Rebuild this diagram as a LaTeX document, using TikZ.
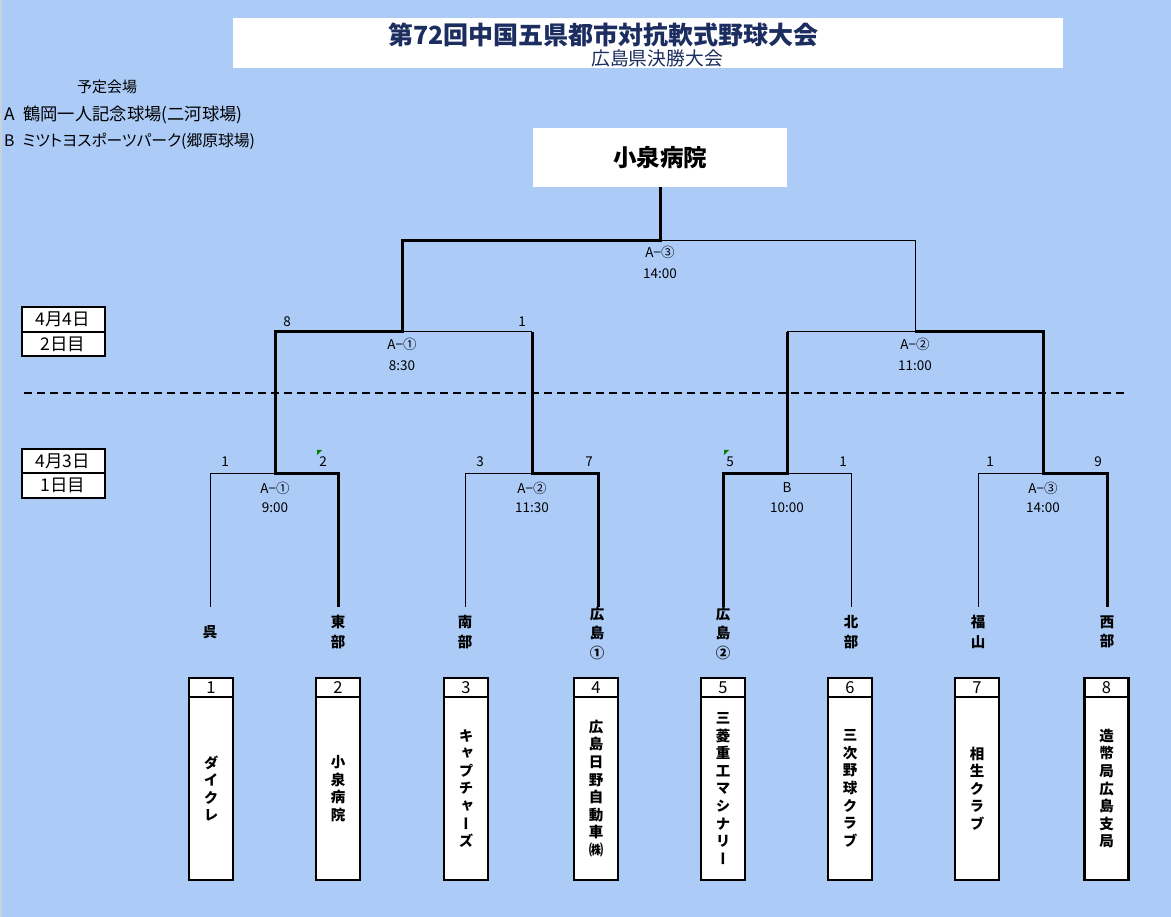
\documentclass[tikz,border=0pt]{standalone}
\usepackage{fontspec}
\setmainfont{Noto Sans CJK JP}
\newfontfamily\vjp[RawFeature=+vert]{Noto Sans CJK JP}
\newfontfamily\pjp[RawFeature=+palt]{Noto Sans CJK JP}
\definecolor{bg}{RGB}{172,203,247}
\definecolor{navy}{RGB}{28,45,95}
\definecolor{xlgreen}{RGB}{0,128,0}
\definecolor{edge}{RGB}{200,208,222}
\begin{document}
\begin{tikzpicture}[x=1pt,y=-1pt,
  win/.style={line width=3pt,line join=miter},
  lose/.style={line width=1pt},
  lbl/.style={font=\fontsize{13.5}{15}\selectfont,inner sep=0pt},
  score/.style={font=\fontsize{13.5}{15}\selectfont,inner sep=0pt},
  region/.style={font=\bfseries\fontsize{14.5}{19.5}\selectfont,align=center,inner sep=0pt},
  numcell/.style={draw,line width=2.5pt,fill=white,minimum width=44pt,minimum height=19pt,inner sep=0pt,font=\fontsize{16.5}{17}\selectfont},
  namecell/.style={draw,line width=2.5pt,fill=white,minimum width=44pt,minimum height=183pt,inner sep=0pt,align=center,font=\vjp\bfseries\fontsize{14.5}{17.6}\selectfont},
  datecell/.style={draw,line width=2pt,fill=white,minimum width=83pt,minimum height=24.5pt,inner sep=0pt,font=\fontsize{17.5}{18}\selectfont},
  flag/.style={fill=xlgreen,draw=none}
]
\useasboundingbox (0,0) rectangle (1171,917);
\fill[bg] (0,0) rectangle (1171,917);
\fill[edge] (0,0) rectangle (2,917);

% title
\node[fill=white,minimum width=830pt,minimum height=50pt,inner sep=0pt] (titlebox) at (648,43) {};
\node[font=\bfseries\fontsize{25}{26}\selectfont,text=navy,inner sep=0pt] (title) at (603.5,35) {第72回中国五県都市対抗軟式野球大会};
\node[font=\fontsize{18.8}{19}\selectfont,text=navy,inner sep=0pt] (subtitle) at (657,58) {広島県決勝大会};

% venues
\node[font=\fontsize{15}{16}\selectfont,inner sep=0pt] (venuehead) at (107,87) {予定会場};
\node[font=\fontsize{17.3}{18}\selectfont,inner sep=0pt,anchor=west] (venueA) at (4,115) {A\enspace 鶴岡一人記念球場(二河球場)};
\node[font=\pjp\fontsize{15.8}{17}\selectfont,inner sep=0pt,anchor=west] (venueB) at (4,141) {B\enspace ミツトヨスポーツパーク(郷原球場)};

% champion
\node[fill=white,minimum width=254pt,minimum height=59pt,inner sep=0pt,font=\bfseries\fontsize{23.5}{24}\selectfont] (champ) at (660,157.5) {小泉病院};

% dates
\node[datecell] (d2a) at (63,319.5) {4月4日};
\node[datecell] (d2b) at (63,344) {2日目};
\node[datecell] (d1a) at (63,461) {4月3日};
\node[datecell] (d1b) at (63,485.5) {1日目};

% dashed separator
\coordinate (dL) at (24,393);
\coordinate (dR) at (1128,393);
\draw[line width=2pt,dash pattern=on 8pt off 5pt] (dL) -- (dR);

% bracket coordinates
\coordinate (F) at (660,241);
\coordinate (FL) at (402,241);
\coordinate (FR) at (915,241);
\coordinate (SL) at (402,332);
\coordinate (SL1) at (275,332);
\coordinate (SL2) at (532,332);
\coordinate (SR) at (915,332);
\coordinate (SR1) at (787,332);
\coordinate (SR2) at (1043,332);
\coordinate (Q1) at (275,473);
\coordinate (Q2) at (532,473);
\coordinate (Q3) at (787,473);
\coordinate (Q4) at (1043,473);
\coordinate (Q1a) at (210,473);  \coordinate (Q1b) at (338,473);
\coordinate (Q2a) at (465,473);  \coordinate (Q2b) at (598,473);
\coordinate (Q3a) at (723,473);  \coordinate (Q3b) at (851,473);
\coordinate (Q4a) at (978,473);  \coordinate (Q4b) at (1107,473);
\coordinate (t1) at (210,607);  \coordinate (t2) at (338,607);
\coordinate (t3) at (465,607);  \coordinate (t4) at (598,607);
\coordinate (t5) at (723,607);  \coordinate (t6) at (851,607);
\coordinate (t7) at (978,607);  \coordinate (t8) at (1107,607);

% thin (losing) lines
\draw[lose] (F) -- (FR) -- (SR) -- (SR1);
\draw[lose] (SL) -- (SL2);
\draw[lose] (Q1) -- (Q1a) -- (t1);
\draw[lose] (Q2) -- (Q2a) -- (t3);
\draw[lose] (Q3) -- (Q3b) -- (t6);
\draw[lose] (Q4) -- (Q4a) -- (t7);
% thick (winning) lines
\draw[win] (champ.south) -- (F) -- (FL) -- (SL) -- (SL1) -- (Q1) -- (Q1b) -- (t2);
\draw[win] (SL2) -- (Q2) -- (Q2b) -- (t4);
\draw[win] (SR1) -- (Q3) -- (Q3a) -- (t5);
\draw[win] (SR) -- (SR2) -- (Q4) -- (Q4b) -- (t8);

% game labels
\node[lbl] (gF) at (660,252) {A−③};
\node[lbl] (gFt) at (660,274) {14:00};
\node[score] (sL1) at (287,322) {8};
\node[score] (sL2) at (522,322) {1};
\node[lbl] (gSL) at (402,344) {A−①};
\node[lbl] (gSLt) at (402,366) {8:30};
\node[lbl] (gSR) at (915,344) {A−②};
\node[lbl] (gSRt) at (915,366) {11:00};

\node[score] (s1) at (225,462) {1};
\node[score] (s2) at (323,462) {2};
\node[lbl] (g1) at (275,488) {A−①};
\node[lbl] (g1t) at (275,508) {9:00};
\node[score] (s3) at (480,462) {3};
\node[score] (s4) at (589,462) {7};
\node[lbl] (g2) at (532,488) {A−②};
\node[lbl] (g2t) at (532,508) {11:30};
\node[score] (s5) at (730,462) {5};
\node[score] (s6) at (843,462) {1};
\node[lbl] (g3) at (787,488) {B};
\node[lbl] (g3t) at (787,508) {10:00};
\node[score] (s7) at (990,462) {1};
\node[score] (s8) at (1098,462) {9};
\node[lbl] (g4) at (1043,488) {A−③};
\node[lbl] (g4t) at (1043,508) {14:00};

% green markers
\fill[flag] (317,450) -- (322,450) -- (317,455) -- cycle;
\fill[flag] (724,450) -- (729,450) -- (724,455) -- cycle;

% region labels
\node[region] (r1) at (210,632) {呉};
\node[region] (r2) at (338,632) {東\\部};
\node[region] (r3) at (465,632) {南\\部};
\node[region] (r4) at (597,633) {広\\島\\①};
\node[region] (r5) at (723,633) {広\\島\\②};
\node[region] (r6) at (851,632) {北\\部};
\node[region] (r7) at (978,632) {福\\山};
\node[region] (r8) at (1107,632) {西\\部};

% team boxes
\node[namecell] (b1) at (211,788.5) {ダ\\イ\\ク\\レ};
\node[namecell] (b2) at (338,788.5) {小\\泉\\病\\院};
\node[namecell] (b3) at (466,788.5) {キ\\ャ\\プ\\チ\\ャ\\ー\\ズ};
\node[namecell] (b4) at (596,788.5) {広\\島\\日\\野\\自\\動\\車\\㈱};
\node[namecell] (b5) at (723,788.5) {三\\菱\\重\\工\\マ\\シ\\ナ\\リ\\ー};
\node[namecell] (b6) at (850,788.5) {三\\次\\野\\球\\ク\\ラ\\ブ};
\node[namecell] (b7) at (977,788.5) {相\\生\\ク\\ラ\\ブ};
\node[namecell] (b8) at (1106.5,788.5) {造\\幣\\局\\広\\島\\支\\局};
\node[numcell] (n1) at (211,687.5) {1};
\node[numcell] (n2) at (338,687.5) {2};
\node[numcell] (n3) at (466,687.5) {3};
\node[numcell] (n4) at (596,687.5) {4};
\node[numcell] (n5) at (723,687.5) {5};
\node[numcell] (n6) at (850,687.5) {6};
\node[numcell] (n7) at (977,687.5) {7};
\node[numcell] (n8) at (1106.5,687.5) {8};
\end{tikzpicture}
\end{document}
